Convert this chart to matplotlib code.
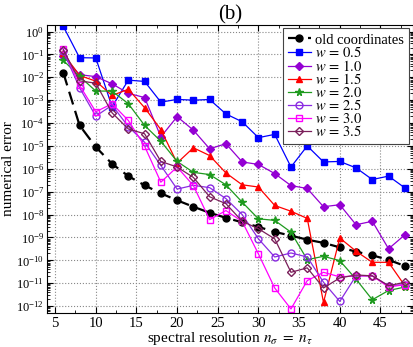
import matplotlib
matplotlib.use("Agg")
import matplotlib.pyplot as plt
from matplotlib.ticker import LogLocator, MultipleLocator, NullFormatter

plt.rcParams['font.family'] = ['Liberation Serif', 'DejaVu Serif']
plt.rcParams['mathtext.fontset'] = 'stix'

# spectral resolution
n = [6, 8, 10, 12, 14, 16, 18, 20, 22, 24, 26, 28, 30, 32, 34, 36, 38, 40, 42, 44, 46, 48]

# errors
old = [1.6e-2, 8e-5, 9e-6, 1.65e-6, 4.8e-7, 1.9e-7, 8.5e-8, 4.2e-8, 2.2e-8, 1.2e-8, 7.2e-9,
       4.6e-9, 2.9e-9, 1.75e-9, 1.2e-9, 8e-10, 5.8e-10, 3.7e-10, 2.4e-10, 1.66e-10, 1.05e-10, 5.7e-11]
w05 = [1.7, 7.2e-2, 7e-2, 5.2e-4, 7.5e-3, 6.6e-3, 8.2e-4, 1.08e-3, 1e-3, 1.07e-3, 2.5e-4,
       1.14e-4, 2.3e-5, 3.2e-5, 1.2e-6, 1e-5, 2e-6, 2.1e-6, 1.1e-6, 3.4e-7, 4.8e-7, 1.47e-7]
w10 = [8.5e-2, 1.3e-2, 1.07e-2, 5.2e-3, 2e-3, 1.3e-3, 2.5e-5, 1.9e-4, 4.9e-5, 7.5e-6, 1.25e-5,
       2e-6, 1.55e-6, 6.2e-7, 1.85e-7, 1.38e-7, 2.2e-8, 2.7e-8, 3.6e-9, 5.1e-9, 3.2e-10, 1.3e-9]
w15 = [1.1e-1, 1.2e-2, 6.8e-3, 1.6e-3, 3e-3, 4.7e-4, 5.2e-5, 1.8e-6, 8.3e-6, 3.8e-6, 6.6e-7,
       2e-7, 1.6e-7, 2.5e-8, 1.4e-8, 6.8e-9, 1.45e-12, 9.5e-10, 2.5e-10, 8.2e-11, 8.2e-11, 7.8e-12]
w20 = [5.5e-2, 1.1e-2, 2.5e-3, 2.5e-3, 7e-4, 7.9e-5, 1.6e-5, 2.1e-6, 7e-7, 5.6e-7, 2e-7,
       3.5e-8, 6.5e-9, 5.6e-9, 1.7e-9, 1.07e-10, 1.5e-10, 9.7e-11, 1.5e-11, 1.9e-12, 4.8e-12, 6.8e-12]
w25 = [1.4e-1, 3.5e-3, 2e-4, 6e-4, 7e-5, 1.45e-5, 1.4e-6, 1.3e-7, 1.9e-7, 1.5e-7, 5e-8,
       1e-8, 8.7e-10, 1.4e-10, 2.1e-10, 1.4e-10, 1.1e-11, 1.6e-12, 2.1e-11, 2.1e-11, 7.8e-12, 8.7e-12]
w30 = [1.8e-1, 4.5e-3, 3.1e-4, 7e-4, 1.3e-4, 9.8e-6, 2.6e-7, 1.2e-6, 1.85e-7, 6e-9, 1.5e-8,
       5e-9, 1.9e-10, 6.2e-12, 7.5e-13, 1.3e-11, 3e-11, 1.9e-11, 2.1e-11, 2.1e-11, 6.8e-12, 8.7e-12]
w35 = [1.6e-1, 7e-3, 5.5e-3, 2.8e-4, 5.5e-5, 3.4e-5, 2.1e-6, 1.2e-6, 4.2e-7, 6e-8, 3e-8,
       5.1e-9, 2.4e-9, 8.7e-10, 3e-11, 4.7e-11, 6.2e-12, 1.7e-11, 2.3e-11, 2.1e-11, 7.8e-12, 1.1e-11]

fig = plt.figure(figsize=(4.14, 3.47), dpi=100)
ax = fig.add_axes([0.1135, 0.098, 0.884, 0.831])

ax.plot(n, old, color='black', linestyle=(0, (6, 3)), linewidth=1.6, marker='o', markersize=5,
        label='old coordinates')
ax.plot(n, w05, color='#0000ff', linewidth=0.9, marker='s', markersize=4.5, label=r'$w\,=\,0.5$')
ax.plot(n, w10, color='#9400d3', linewidth=0.9, marker='D', markersize=3.8, label=r'$w\,=\,1.0$')
ax.plot(n, w15, color='#ff0000', linewidth=0.9, marker='^', markersize=5, label=r'$w\,=\,1.5$')
ax.plot(n, w20, color='#1f9a1f', linewidth=0.9, marker='*', markersize=5.5, label=r'$w\,=\,2.0$')
ax.plot(n, w25, color='#8a2be2', linewidth=0.9, marker='o', markersize=5, markerfacecolor='none',
        label=r'$w\,=\,2.5$')
ax.plot(n, w30, color='#ff00ff', linewidth=0.9, marker='s', markersize=4.5, markerfacecolor='none',
        label=r'$w\,=\,3.0$')
ax.plot(n, w35, color='#7a1f5a', linewidth=0.9, marker='D', markersize=4, markerfacecolor='none',
        label=r'$w\,=\,3.5$')

ax.set_yscale('log')
ax.set_xlim(4, 49)
ax.set_ylim(5e-13, 2)

ax.xaxis.set_major_locator(MultipleLocator(5))
ax.xaxis.set_minor_locator(MultipleLocator(2.5))
ax.yaxis.set_major_locator(LogLocator(base=10, numticks=30))
ax.yaxis.set_minor_locator(LogLocator(base=10, subs=range(2, 10), numticks=30))
ax.yaxis.set_minor_formatter(NullFormatter())

ax.tick_params(which='both', direction='in', top=True, right=True)
ax.tick_params(axis='x', labelsize=10.5, pad=3)
ax.tick_params(axis='y', labelsize=9, pad=2)
ax.tick_params(which='major', length=4)
ax.tick_params(which='minor', length=2)
ax.grid(True, which='major', linestyle=':', color='#888888', linewidth=0.8)

ax.set_xlabel(r'spectral resolution $n_\sigma\ =\ n_\tau$', fontsize=11, labelpad=0)
ax.set_ylabel('numerical error', fontsize=11, labelpad=1)
ax.set_title('(b)', fontsize=15, pad=4)

leg = ax.legend(loc='upper right', fontsize=10.5, handlelength=1.6, handletextpad=0.3,
                labelspacing=-0.1, borderpad=0.35, borderaxespad=0.25, fancybox=False,
                framealpha=1, edgecolor='#444444')
leg.get_frame().set_linewidth(0.8)

fig.savefig('out.png', dpi=100)
